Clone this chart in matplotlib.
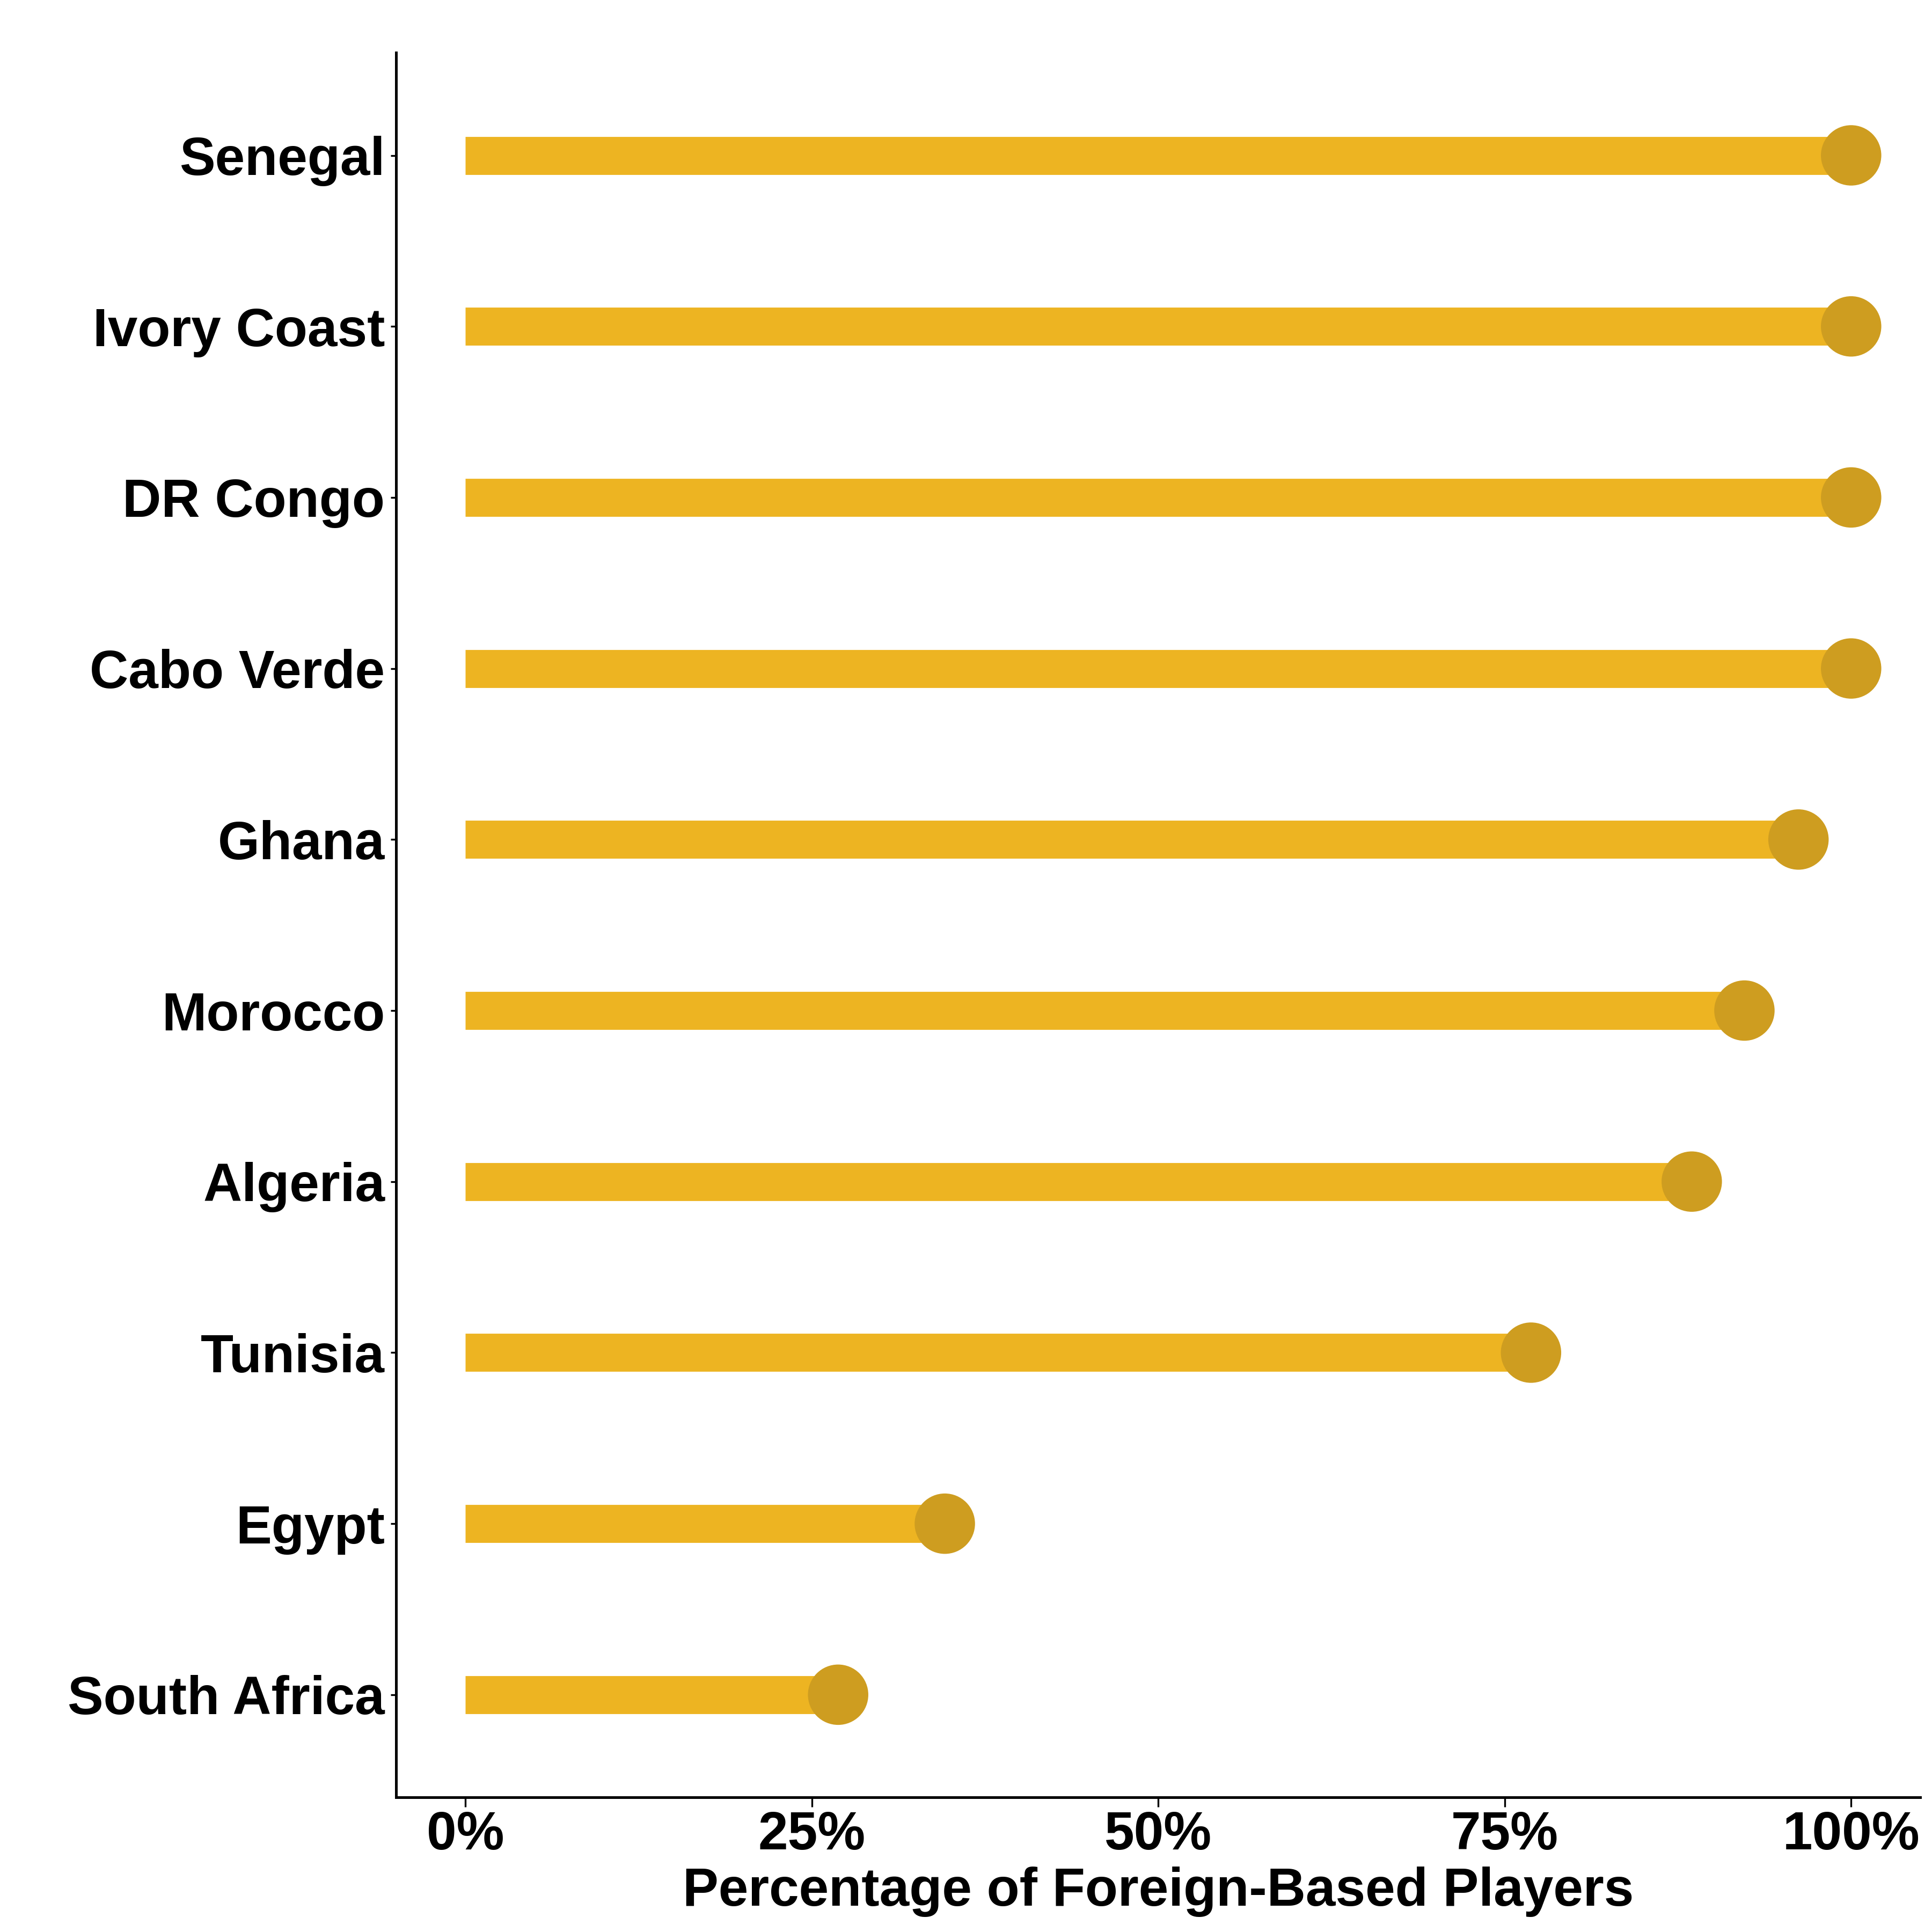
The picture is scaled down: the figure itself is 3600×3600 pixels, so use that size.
import matplotlib
matplotlib.use("Agg")
import matplotlib.pyplot as plt
from matplotlib.ticker import FuncFormatter

# Share of squad playing abroad (26-player squads)
countries = ['South Africa', 'Egypt', 'Tunisia', 'Algeria', 'Morocco',
             'Ghana', 'Cabo Verde', 'DR Congo', 'Ivory Coast', 'Senegal']
foreign_pct = [26.9, 34.6, 76.9, 88.5, 92.3, 96.2, 100, 100, 100, 100]
x_ticks = [0, 25, 50, 75, 100]

line_color = '#EDB422'
dot_color = '#CE9D20'

plt.rcParams['font.family'] = ['Liberation Sans', 'DejaVu Sans']
plt.rcParams['font.weight'] = 'bold'

fig = plt.figure(figsize=(12, 12), dpi=300)
ax = fig.add_axes([0.205, 0.0697, 0.789, 0.903])

y = list(range(1, len(countries) + 1))
ax.hlines(y, 0, foreign_pct, color=line_color, linewidth=17, capstyle='butt', zorder=2)
ax.scatter(foreign_pct, y, s=27 ** 2, color=dot_color, edgecolors='none', zorder=3)

ax.set_xlim(-5, 105)
ax.set_ylim(0.4, len(countries) + 0.6)
ax.set_yticks(y)
ax.set_yticklabels(countries)
ax.set_xticks(x_ticks)
ax.xaxis.set_major_formatter(FuncFormatter(lambda v, p: f'{v:.0f}%'))

for s in ['top', 'right']:
    ax.spines[s].set_visible(False)
for s in ['left', 'bottom']:
    ax.spines[s].set_linewidth(1.2)

ax.tick_params(axis='x', length=4.3, width=0.8, pad=1.5, labelsize=24)
ax.tick_params(axis='y', length=2.4, width=0.8, pad=2.6, labelsize=24)
for lab in ax.get_xticklabels():
    lab.set_fontweight('bold')
for lab in ax.get_yticklabels():
    lab.set_fontweight('bold')
    lab.set_verticalalignment('center_baseline')

ax.set_xlabel('Percentage of Foreign-Based Players', fontsize=24, fontweight='bold', labelpad=2.5)

fig.savefig('out.png', dpi=300, facecolor='white')
